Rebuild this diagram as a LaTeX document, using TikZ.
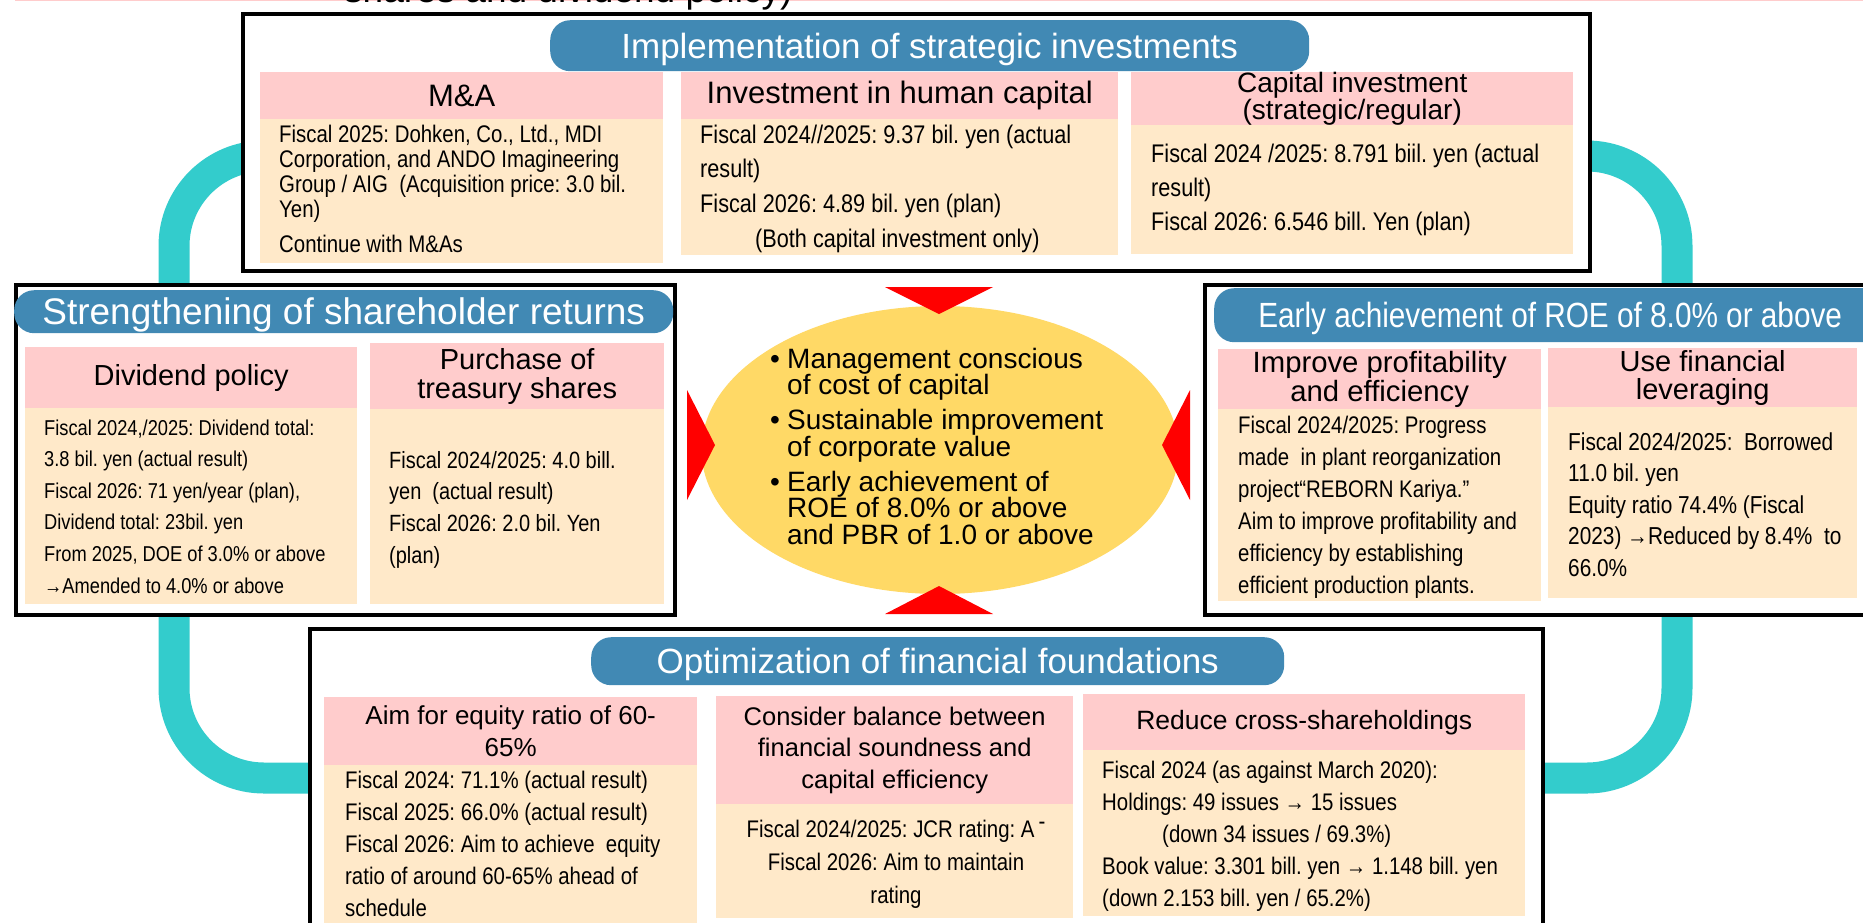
\documentclass[tikz,border=0pt]{standalone}
\usepackage{fontspec}
\setmainfont{Liberation Sans}
\newfontfamily\narrowfont{Liberation Sans}[FakeStretch=0.85]
\usetikzlibrary{shapes.geometric}
\frenchspacing
\definecolor{pillblue}{RGB}{65,137,180}
\definecolor{headpink}{RGB}{255,204,204}
\definecolor{bodybeige}{RGB}{255,233,201}
\definecolor{loopteal}{RGB}{51,204,204}
\definecolor{coreyellow}{RGB}{255,217,102}
\tikzset{
	panel/.style={draw=black, line width=3.5pt, fill=white, inner sep=0pt, anchor=north west},
	pill/.style={fill=pillblue, text=white, rounded corners=20pt, inner sep=0pt, anchor=north west, text height=25pt, text depth=0pt},
	headcell/.style={fill=headpink, inner sep=0pt, anchor=north west, align=center},
	bodycell/.style={fill=bodybeige, inner sep=0pt, anchor=north west},
	bodytext/.style 2 args={inner sep=0pt, anchor=north west, align=left, font=\narrowfont\fontsize{#1}{#2}\selectfont},
	arrowhead/.style={fill=red, draw=none}
}
\begin{document}
\begin{tikzpicture}[x=1pt, y=-1pt]
	\useasboundingbox (0,0) rectangle (1863,922);
	\fill [white] (0,0) rectangle (1863,922);
	\draw [headpink, line width=1.5pt] (15,0.5) -- (1863,0.5);
	\node [anchor=base west, inner sep=0pt, font=\fontsize{37}{40}\selectfont] (prevtitle) at (344,2.5) {shares and dividend policy)};

	\draw [loopteal, line width=31pt, rounded corners=90pt] (174,156) rectangle (1677,778);

	\node [panel, minimum width=1347pt, minimum height=257pt] (invest) at (241,12) {};
	\node [pill, minimum width=759pt, minimum height=51pt, font=\fontsize{35}{40}\selectfont] (invtitle) at (550,20) {Implementation of strategic investments};
	\node [bodycell, minimum width=403pt, minimum height=144pt] (mabody) at (260,119) {};
	\node [headcell, minimum width=403pt, minimum height=47pt, font=\fontsize{31}{34}\selectfont] (mahead) at (260,72) {M\&A};
	\node [bodytext={24}{25}] (matext) at (279,124.5) {Fiscal 2025: Dohken, Co., Ltd., MDI\\
		Corporation, and ANDO Imagineering\\
		Group / AIG~ (Acquisition price: 3.0 bil.\\
		Yen)\\[10pt]
		Continue with M\&As};
	\node [bodycell, minimum width=437pt, minimum height=136pt] (humanbody) at (681,119) {};
	\node [headcell, minimum width=437pt, minimum height=47pt, font=\fontsize{31}{34}\selectfont] (humanhead) at (681,72) {Investment in human capital};
	\node [bodytext={25.5}{34.7}] (humantext) at (700,124.4) {Fiscal 2024//2025: 9.37 bil. yen (actual\\
		result)\\
		Fiscal 2026: 4.89 bil. yen (plan)\\
		\hspace*{55pt}(Both capital investment only)};
	\node [bodycell, minimum width=442pt, minimum height=135pt] (capitalbody) at (1131,119) {};
	\node [headcell, minimum width=442pt, minimum height=47pt, font=\fontsize{28}{23}\selectfont] (capitalhead) at (1131,72) {Capital investment\\(strategic/regular)};
	\node [bodytext={25.5}{34}] (capitaltext) at (1151,143.4) {Fiscal 2024 /2025: 8.791 biil. yen (actual\\
		result)\\
		Fiscal 2026: 6.546 bill. Yen (plan)};

	\node [panel, minimum width=659pt, minimum height=330pt] (returns) at (14,283) {};
	\node [pill, minimum width=659pt, minimum height=43pt, text height=26.5pt, font=\fontsize{37}{40}\selectfont] (rettitle) at (14,290) {Strengthening of shareholder returns};
	\node [bodycell, minimum width=332pt, minimum height=196pt] (dividendbody) at (25,408) {};
	\node [headcell, minimum width=332pt, minimum height=61pt, font=\fontsize{29}{29}\selectfont] (dividendhead) at (25,347) {Dividend policy};
	\node [bodytext={21.5}{31.6}] (dividendtext) at (44,419.3) {Fiscal 2024,/2025: Dividend total:\\
		3.8 bil. yen (actual result)\\
		Fiscal 2026: 71 yen/year (plan),\\
		Dividend total: 23bil. yen\\
		From 2025, DOE of 3.0\% or above\\
		→Amended to 4.0\% or above};
	\node [bodycell, minimum width=294pt, minimum height=195pt] (buybackbody) at (370,409) {};
	\node [headcell, minimum width=294pt, minimum height=66pt, font=\fontsize{29}{29}\selectfont] (buybackhead) at (370,343) {Purchase of\\treasury shares};
	\node [bodytext={23.5}{31.7}] (buybacktext) at (389,450.8) {Fiscal 2024/2025: 4.0 bill.\\
		yen~ (actual result)\\
		Fiscal 2026: 2.0 bil. Yen\\
		(plan)};

	\node [panel, minimum width=700pt, minimum height=330pt] (roe) at (1203,283) {};
	\node [pill, minimum width=672pt, minimum height=54pt, font=\narrowfont\fontsize{35}{40}\selectfont] (roetitle) at (1214,288) {Early achievement of ROE of 8.0\% or above};
	\node [bodycell, minimum width=323pt, minimum height=192pt] (improvebody) at (1218,409) {};
	\node [headcell, minimum width=323pt, minimum height=60pt, font=\fontsize{29.3}{29}\selectfont] (improvehead) at (1218,349) {Improve profitability\\and efficiency};
	\node [bodytext={24}{32}] (improvetext) at (1238,415.5) {Fiscal 2024/2025: Progress\\
		made~ in plant reorganization\\
		project“REBORN Kariya.”\\
		Aim to improve profitability and\\
		efficiency by establishing\\
		efficient production plants.};
	\node [bodycell, minimum width=309pt, minimum height=191pt] (leveragebody) at (1548,407) {};
	\node [headcell, minimum width=309pt, minimum height=59pt, font=\fontsize{29}{28}\selectfont] (leveragehead) at (1548,348) {Use financial\\leveraging};
	\node [bodytext={24.5}{31.5}] (leveragetext) at (1568,432.1) {Fiscal 2024/2025:~ Borrowed\\
		11.0 bil. yen\\
		Equity ratio 74.4\% (Fiscal\\
		2023) →Reduced by 8.4\%~ to\\
		66.0\%};

	\node [panel, minimum width=1233pt, minimum height=330pt] (finance) at (308,627) {};
	\node [pill, minimum width=693pt, minimum height=48pt, font=\fontsize{35}{40}\selectfont] (fintitle) at (591,637) {Optimization of financial foundations};
	\node [bodycell, minimum width=373pt, minimum height=170pt] (equitybody) at (324,765) {};
	\node [headcell, minimum width=373pt, minimum height=68pt, font=\fontsize{26}{32}\selectfont] (equityhead) at (324,697) {Aim for equity ratio of 60-\\65\%};
	\node [bodytext={24}{32}] (equitytext) at (345,770.5) {Fiscal 2024: 71.1\% (actual result)\\
		Fiscal 2025: 66.0\% (actual result)\\
		Fiscal 2026: Aim to achieve~ equity\\
		ratio of around 60-65\% ahead of\\
		schedule};
	\node [bodycell, minimum width=357pt, minimum height=114pt] (balancebody) at (716,804) {};
	\node [headcell, minimum width=357pt, minimum height=108pt, font=\fontsize{25.5}{31.5}\selectfont] (balancehead) at (716,696) {Consider balance between\\financial soundness and\\capital efficiency};
	\node [bodytext={24}{33}, anchor=north, align=center] (balancetext) at (896,819.5) {Fiscal 2024/2025: JCR rating: A\,\raisebox{8pt}{-}\\
		Fiscal 2026: Aim to maintain\\
		rating};
	\node [bodycell, minimum width=442pt, minimum height=166pt] (crossbody) at (1083,750) {};
	\node [headcell, minimum width=442pt, minimum height=56pt, font=\fontsize{26.5}{32}\selectfont] (crosshead) at (1083,694) {Reduce cross-shareholdings};
	\node [bodytext={24}{32}] (crosstext) at (1102,760.5) {Fiscal 2024 (as against March 2020):\\
		Holdings: 49 issues → 15 issues\\
		\hspace*{60pt}(down 34 issues / 69.3\%)\\
		Book value: 3.301 bill. yen → 1.148 bill. yen\\
		(down 2.153 bill. yen / 65.2\%)};

	\node [ellipse, fill=coreyellow, minimum width=477pt, minimum height=288pt, inner sep=0pt] (core) at (940,450) {};
	\node [inner sep=0pt, anchor=north west, align=left, font=\fontsize{28}{26.5}\selectfont] (coretext) at (770,347.6) {\makebox[17pt][l]{\textbullet}Management conscious\\
		\hspace*{17pt}of cost of capital\\[8.5pt]
		\makebox[17pt][l]{\textbullet}Sustainable improvement\\
		\hspace*{17pt}of corporate value\\[8.5pt]
		\makebox[17pt][l]{\textbullet}Early achievement of\\
		\hspace*{17pt}ROE of 8.0\% or above\\
		\hspace*{17pt}and PBR of 1.0 or above};
	\fill [arrowhead] (885,287) -- (993,287) -- (939,314) -- cycle;
	\fill [arrowhead] (885,614) -- (993,614) -- (939,586) -- cycle;
	\fill [arrowhead] (687,390) -- (687,500) -- (715,445) -- cycle;
	\fill [arrowhead] (1190,390) -- (1190,500) -- (1162,445) -- cycle;
\end{tikzpicture}
\end{document}
